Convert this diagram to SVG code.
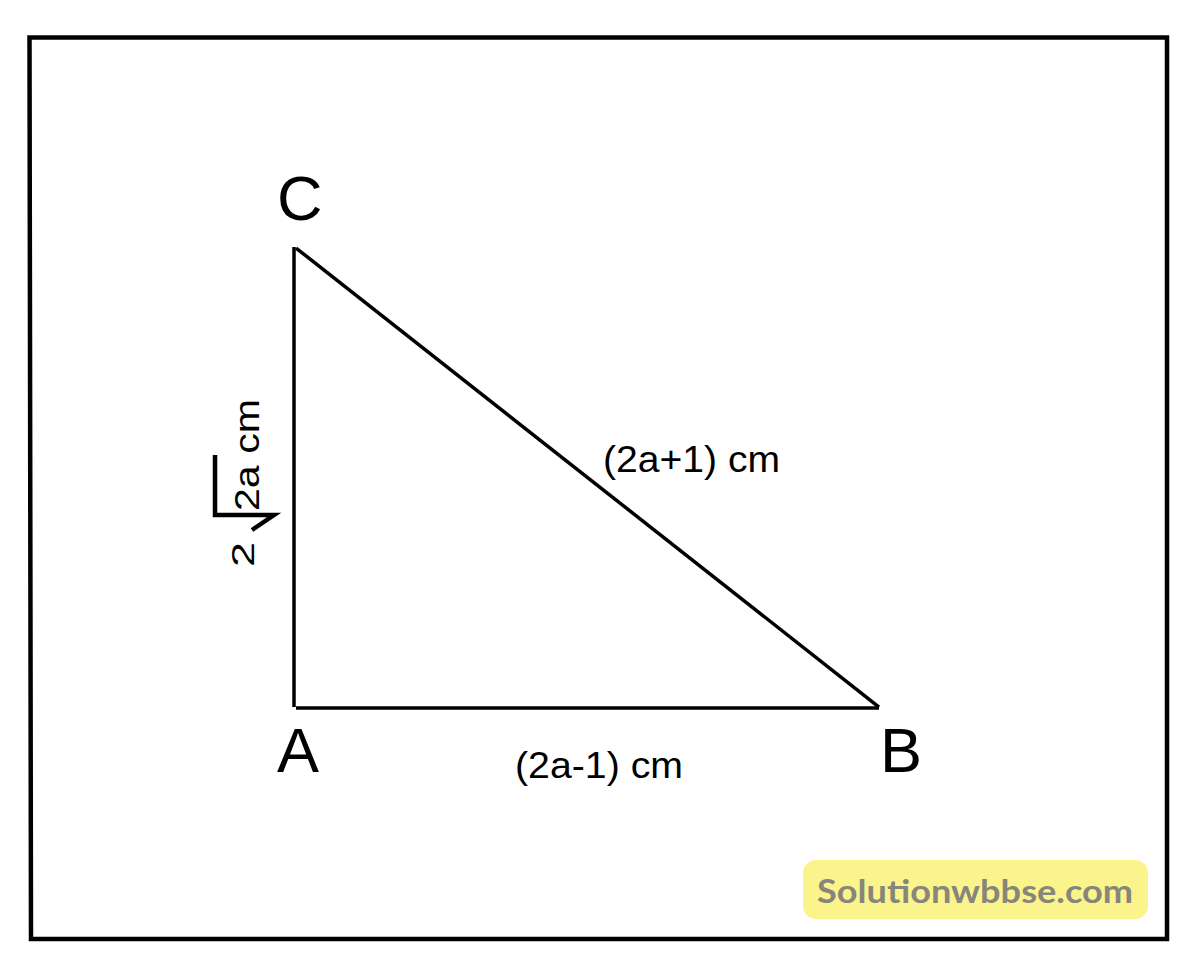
<svg xmlns="http://www.w3.org/2000/svg" width="1200" height="976" viewBox="0 0 1200 976">
  <style>
    .edge { stroke: #000; stroke-width: 3.5; fill: none; stroke-linecap: butt; }
    .lbl { font-family: "Liberation Sans", Arial, sans-serif; fill: #000; }
    .vtx { font-size: 63px; }
    .side { font-size: 36px; }
  </style>
  <rect width="1200" height="976" fill="#fff"/>
  <g id="frame">
    <polygon points="29.5,37.5 1167,37.5 1167,939 31,939" fill="none" stroke="#000" stroke-width="4.5" stroke-linejoin="miter"/>
  </g>
  <g id="connectors">
    <line class="edge" x1="294" y1="247" x2="294" y2="707"/>
    <line class="edge" x1="296" y1="708" x2="879" y2="708"/>
    <line class="edge" x1="296" y1="248" x2="879" y2="707"/>
  </g>
  <g id="node-C">
    <text class="lbl vtx" x="277" y="220">C</text>
  </g>
  <g id="node-A">
    <text class="lbl vtx" x="277" y="772">A</text>
  </g>
  <g id="node-B">
    <text class="lbl vtx" x="880" y="772">B</text>
  </g>
  <g id="label-CB">
    <text class="lbl side" x="603" y="472" textLength="177" lengthAdjust="spacingAndGlyphs">(2a+1) cm</text>
  </g>
  <g id="label-AB">
    <text class="lbl side" x="515" y="778" textLength="168" lengthAdjust="spacingAndGlyphs">(2a-1) cm</text>
  </g>
  <g id="label-AC">
    <text class="lbl" font-size="31" transform="translate(254,567) rotate(-90)" textLength="25" lengthAdjust="spacingAndGlyphs">2</text>
    <polyline points="215,455 215,515 274,515 252,530" fill="none" stroke="#000" stroke-width="4.5" stroke-linejoin="miter"/>
    <text class="lbl" font-size="35" transform="translate(259,511) rotate(-90)" textLength="112" lengthAdjust="spacingAndGlyphs">2a cm</text>
  </g>
  <g id="watermark">
    <rect x="803" y="860" width="345" height="59" rx="13" fill="#fbf38c"/>
    <text x="817" y="903" font-family="Lato, 'Open Sans', sans-serif" font-weight="bold" font-size="33" fill="#86867a" textLength="316" lengthAdjust="spacingAndGlyphs">Solutionwbbse.com</text>
  </g>
</svg>
